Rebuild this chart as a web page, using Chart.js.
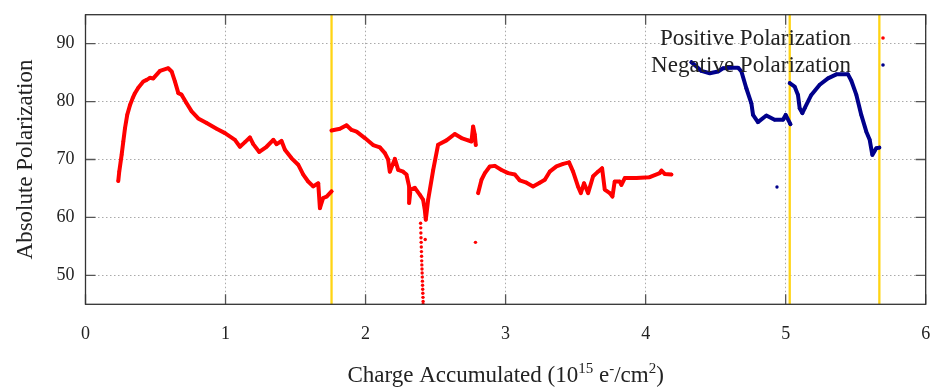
<!DOCTYPE html>
<html>
<head>
<meta charset="utf-8">
<script src="https://cdn.jsdelivr.net/npm/chart.js@4.4.1/dist/chart.umd.min.js"></script>
<style>
  html, body { margin: 0; padding: 0; background: #fff; }
  #wrap { width: 934px; height: 390px; }
</style>
</head>
<body>
<div id="wrap"><canvas id="chart"></canvas></div>
<script>
const xTicks = [0, 1, 2, 3, 4, 5, 6];
const yTicks = [50, 60, 70, 80, 90];
const seriesNames = ["Positive Polarization", "Negative Polarization"];
const seriesColors = ["#ff0000", "#00008b"];
const beamChanges = [1.757, 5.029, 5.669]; // yellow vertical markers

// positive polarization, [charge, polarization]
const posSegment1 = [
  [0.234, 66.3], [0.241, 67.9], [0.258, 70.8], [0.270, 73.1], [0.282, 75.4], [0.298, 77.7],
  [0.318, 79.4], [0.337, 80.6], [0.353, 81.45], [0.377, 82.4], [0.413, 83.45], [0.437, 83.75],
  [0.46, 84.1], [0.484, 84.0], [0.532, 85.3], [0.591, 85.76], [0.615, 85.2], [0.639, 83.45],
  [0.663, 81.45], [0.686, 81.2], [0.722, 79.7], [0.758, 78.3], [0.805, 77.1], [0.865, 76.3],
  [0.936, 75.3], [0.996, 74.55], [1.067, 73.4], [1.103, 72.2], [1.139, 73.0], [1.174, 73.8],
  [1.198, 72.65], [1.241, 71.3], [1.293, 72.2], [1.341, 73.4], [1.365, 72.65], [1.400, 73.2],
  [1.424, 71.7], [1.472, 70.2], [1.519, 69.1], [1.555, 67.4], [1.590, 66.2], [1.626, 65.35],
  [1.662, 65.9], [1.674, 61.6], [1.697, 63.35], [1.722, 63.6], [1.757, 64.5]
];
const posSegment2 = [
  [1.757, 75.0], [1.817, 75.3], [1.864, 75.9], [1.900, 75.1], [1.936, 74.8], [1.995, 73.7],
  [2.054, 72.5], [2.102, 72.1], [2.138, 71.1], [2.161, 70.0], [2.173, 67.9], [2.209, 70.1],
  [2.233, 68.2], [2.268, 67.9], [2.292, 67.4], [2.311, 65.35], [2.311, 62.5], [2.321, 64.8],
  [2.352, 65.1], [2.388, 63.9], [2.411, 63.05], [2.423, 61.3], [2.430, 59.6], [2.447, 63.05],
  [2.483, 68.2], [2.518, 72.55], [2.578, 73.3], [2.637, 74.4], [2.685, 73.7], [2.732, 73.3],
  [2.756, 73.1], [2.768, 75.7], [2.780, 74.3], [2.787, 72.5]
];
const posSegment3 = [
  [2.804, 64.2], [2.828, 66.5], [2.852, 67.65], [2.887, 68.8], [2.923, 68.9], [2.971, 68.2],
  [3.018, 67.65], [3.066, 67.4], [3.101, 66.4], [3.149, 66.0], [3.196, 65.35], [3.244, 66.0],
  [3.280, 66.5], [3.315, 67.9], [3.363, 68.8], [3.411, 69.25], [3.453, 69.5], [3.482, 67.9],
  [3.517, 65.35], [3.537, 64.2], [3.560, 65.9], [3.589, 64.2], [3.625, 67.1], [3.660, 67.9],
  [3.689, 68.5], [3.708, 64.8], [3.744, 64.2], [3.763, 63.6], [3.779, 66.2], [3.815, 66.2],
  [3.827, 65.6], [3.851, 66.8], [3.934, 66.8], [4.029, 66.95], [4.101, 67.65], [4.113, 68.1],
  [4.136, 67.5], [4.184, 67.4]
];
// stray positive points (dropout near 2.4 and single point)
const posStray = [
  [2.393, 59.0], [2.394, 58.2], [2.395, 57.3], [2.396, 56.5], [2.426, 56.2], [2.397, 55.7],
  [2.398, 54.9], [2.399, 54.1], [2.400, 53.3], [2.401, 52.5], [2.402, 51.8], [2.403, 51.1],
  [2.404, 50.4], [2.405, 49.7], [2.406, 49.0], [2.407, 48.3], [2.408, 47.6], [2.409, 46.9],
  [2.410, 46.2], [2.411, 45.5], [2.411, 45.0], [2.785, 55.7]
];

// negative polarization
const negSegment1 = [
  [4.327, 86.8], [4.363, 86.05], [4.398, 85.3], [4.458, 84.9], [4.517, 85.2], [4.553, 85.75],
  [4.612, 85.85], [4.660, 85.85], [4.684, 85.2], [4.719, 82.3], [4.755, 79.7], [4.767, 77.7],
  [4.802, 76.45], [4.862, 77.6], [4.921, 76.85], [4.981, 76.85], [5.000, 77.7], [5.034, 76.1]
];
const negSegment2 = [
  [5.029, 83.2], [5.064, 82.6], [5.088, 81.15], [5.100, 78.85], [5.119, 78.0], [5.136, 78.85],
  [5.183, 81.15], [5.243, 82.9], [5.302, 84.0], [5.362, 84.7], [5.445, 84.7], [5.469, 83.6],
  [5.505, 81.15], [5.540, 77.7], [5.576, 74.8], [5.600, 73.4], [5.619, 70.8], [5.647, 71.95],
  [5.669, 72.05]
];
const negStray = [[4.938, 65.25]];

const SERIF = "'Liberation Serif', 'DejaVu Serif', serif";
const TEXT = "#222";
const toPoints = (arr) => arr.map(p => ({ x: p[0], y: p[1] }));

const trace = (arr, color) => ({
  data: toPoints(arr),
  showLine: true,
  borderColor: color,
  backgroundColor: color,
  borderWidth: 4,
  borderJoinStyle: "round",
  borderCapStyle: "round",
  pointRadius: 1.8,
  pointBorderWidth: 0,
  pointHoverRadius: 0,
  order: 1
});
const dots = (arr, color) => ({
  data: toPoints(arr),
  showLine: false,
  backgroundColor: color,
  pointRadius: 1.7,
  pointBorderWidth: 0,
  pointHoverRadius: 0,
  order: 1
});
const marker = (v) => ({
  data: [{ x: v, y: 45 }, { x: v, y: 95 }],
  showLine: true,
  borderColor: "#ffd414",
  borderWidth: 2.3,
  pointRadius: 0,
  order: 5
});

const datasets = [
  trace(posSegment1, seriesColors[0]),
  trace(posSegment2, seriesColors[0]),
  trace(posSegment3, seriesColors[0]),
  dots(posStray, seriesColors[0]),
  trace(negSegment1, seriesColors[1]),
  trace(negSegment2, seriesColors[1]),
  dots(negStray, seriesColors[1]),
  ...beamChanges.map(marker)
];

// frame with inward ticks, gnuplot style
const frameTicks = {
  id: "frameTicks",
  afterDatasetsDraw(chart) {
    const { ctx, chartArea: a, scales: { x, y } } = chart;
    ctx.save();
    ctx.strokeStyle = "#555";
    ctx.lineWidth = 1.3;
    ctx.beginPath();
    xTicks.forEach(v => {
      const px = x.getPixelForValue(v);
      ctx.moveTo(px, a.bottom); ctx.lineTo(px, a.bottom - 10);
      ctx.moveTo(px, a.top); ctx.lineTo(px, a.top + 10);
    });
    yTicks.forEach(v => {
      const py = y.getPixelForValue(v);
      ctx.moveTo(a.left, py); ctx.lineTo(a.left + 10, py);
      ctx.moveTo(a.right, py); ctx.lineTo(a.right - 10, py);
    });
    ctx.stroke();
    ctx.strokeStyle = "#333";
    ctx.strokeRect(a.left, a.top, a.right - a.left, a.bottom - a.top);
    ctx.restore();
  }
};

// legend: text right-aligned with point sample to the right
const keyLegend = {
  id: "keyLegend",
  afterDatasetsDraw(chart) {
    const { ctx } = chart;
    ctx.save();
    ctx.font = "23px " + SERIF;
    ctx.textAlign = "right";
    ctx.textBaseline = "middle";
    seriesNames.forEach((name, i) => {
      const yy = 39 + i * 27;
      ctx.fillStyle = TEXT;
      ctx.fillText(name, 851, yy);
      ctx.fillStyle = seriesColors[i];
      ctx.beginPath();
      ctx.arc(883, yy - 1, 1.8, 0, Math.PI * 2);
      ctx.fill();
    });
    ctx.restore();
  }
};

// axis titles (x title has superscripts)
const axisTitles = {
  id: "axisTitles",
  afterDraw(chart) {
    const { ctx, chartArea: a } = chart;
    ctx.save();
    ctx.fillStyle = TEXT;
    ctx.textBaseline = "alphabetic";
    ctx.font = "23px " + SERIF;
    ctx.textAlign = "center";
    ctx.translate(32, (a.top + a.bottom) / 2);
    ctx.rotate(-Math.PI / 2);
    ctx.fillText("Absolute Polarization", 0, 0);
    ctx.restore();

    const parts = [
      ["Charge Accumulated (10", false], ["15", true], [" e", false], ["-", true],
      ["/cm", false], ["2", true], [")", false]
    ];
    const big = "23px " + SERIF, small = "15px " + SERIF;
    ctx.save();
    ctx.fillStyle = TEXT;
    ctx.textAlign = "left";
    ctx.textBaseline = "alphabetic";
    let total = 0;
    parts.forEach(([t, sup]) => { ctx.font = sup ? small : big; total += ctx.measureText(t).width; });
    let cx = (a.left + a.right) / 2 - total / 2;
    const base = 382;
    parts.forEach(([t, sup]) => {
      ctx.font = sup ? small : big;
      ctx.fillText(t, cx, sup ? base - 9 : base);
      cx += ctx.measureText(t).width;
    });
    ctx.restore();
  }
};

const chart = new Chart(document.getElementById("chart"), {
  type: "scatter",
  data: { datasets },
  options: {
    responsive: true,
    maintainAspectRatio: false,
    animation: false,
    events: [],
    layout: { padding: { top: 14.7, right: 8.3, left: 0, bottom: 0 } },
    plugins: { legend: { display: false }, tooltip: { enabled: false } },
    scales: {
      x: {
        type: "linear",
        min: 0,
        max: 6,
        afterBuildTicks: s => { s.ticks = xTicks.map(v => ({ value: v })); },
        afterFit: s => { s.height = 85.7; s.paddingLeft = 0; s.paddingRight = 0; },
        grid: { color: "#aaa", lineWidth: 1, drawTicks: false },
        border: { display: false, dash: [1.5, 2.5] },
        ticks: { padding: 19, color: TEXT, font: { family: SERIF, size: 18 } }
      },
      y: {
        min: 45,
        max: 95,
        afterBuildTicks: s => { s.ticks = yTicks.map(v => ({ value: v })); },
        afterFit: s => { s.width = 85.5; s.paddingTop = 0; s.paddingBottom = 0; },
        grid: { color: "#aaa", lineWidth: 1, drawTicks: false },
        border: { display: false, dash: [1.5, 2.5] },
        ticks: { padding: 11, color: TEXT, font: { family: SERIF, size: 18 } }
      }
    }
  },
  plugins: [frameTicks, keyLegend, axisTitles]
});

// nudge the layout padding so the plot frame lands where the reference has it
const frameTarget = { left: 85.5, top: 14.7, right: 925.7, bottom: 304.3 };
for (let k = 0; k < 2; k++) {
  const a = chart.chartArea;
  const p = chart.options.layout.padding;
  p.top += frameTarget.top - a.top;
  p.left += frameTarget.left - a.left;
  p.right += a.right - frameTarget.right;
  p.bottom += a.bottom - frameTarget.bottom;
  chart.update();
}
</script>
</body>
</html>
